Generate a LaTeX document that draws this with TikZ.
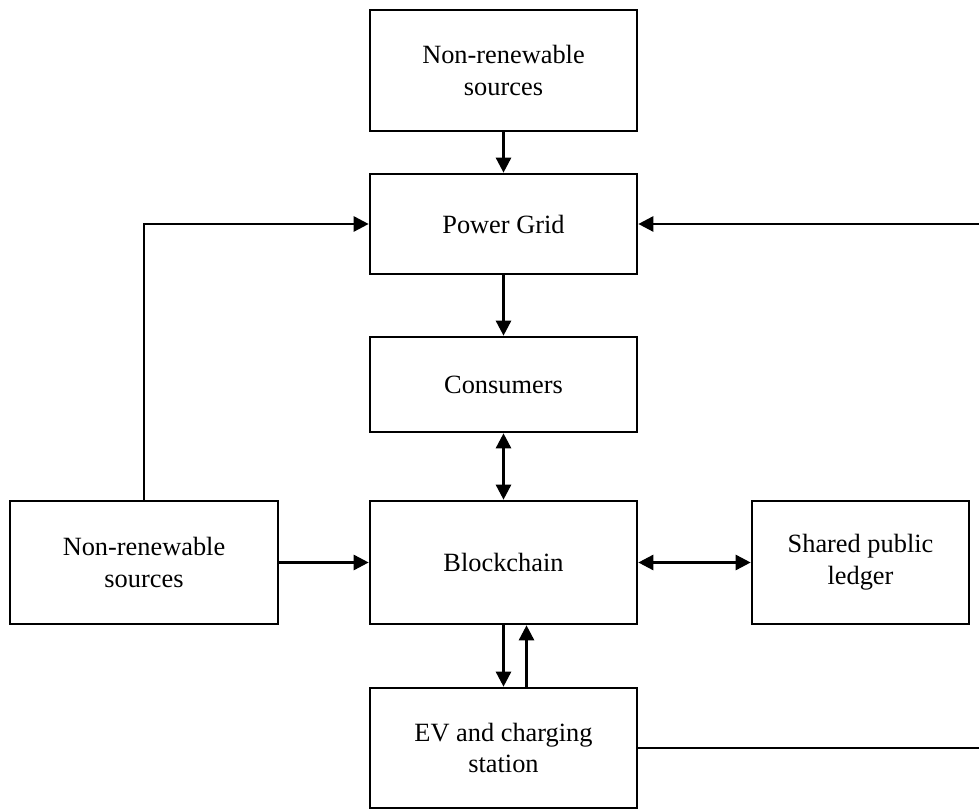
\documentclass[tikz,border=0pt]{standalone}
\usepackage{fontspec}
\setmainfont{Liberation Serif}
\usepackage{xcolor}
\usepackage{tikz}
\usetikzlibrary{arrows.meta}
\definecolor{FlowInk}{HTML}{000000}

\begin{document}
\begin{tikzpicture}[x=1cm,y=1cm,
  flowbox/.style={draw=FlowInk,line width=1.5pt,align=center,inner sep=0pt,
    font=\fontsize{15}{18}\selectfont,minimum width=5.34cm},
  flowarrow/.style={draw=FlowInk,line width=1.5pt,-{Triangle[length=0.3cm,width=0.3cm]}},
  flowboth/.style={draw=FlowInk,line width=1.5pt,{Triangle[length=0.3cm,width=0.3cm]}-{Triangle[length=0.3cm,width=0.3cm]}}]
\path[use as bounding box] (0,0) rectangle (19.58,16.20);
\node[flowbox,minimum height=2.42cm] (topsrc) at (10.07,14.79) {Non-renewable\\sources};
\node[flowbox,minimum height=2.00cm] (grid) at (10.07,11.72) {Power Grid};
\node[flowbox,minimum height=1.90cm] (consumers) at (10.07,8.51) {Consumers};
\node[flowbox,minimum height=2.46cm] (chain) at (10.07,4.95) {Blockchain};
\node[flowbox,minimum height=2.40cm] (ev) at (10.07,1.24) {EV and charging\\station};
\node[flowbox,minimum height=2.46cm,minimum width=5.36cm] (leftsrc) at (2.88,4.95) {Non-renewable\\sources};
\node[flowbox,minimum height=2.46cm,minimum width=4.34cm] (ledger) at (17.21,4.95) {Shared public\\ledger};
\coordinate (edgelow) at (19.58,1.24);
\coordinate (edgehigh) at (19.58,11.72);
\draw[flowarrow] (topsrc) -- (grid);
\draw[flowarrow] (grid) -- (consumers);
\draw[flowboth] (consumers) -- (chain);
\draw[flowarrow] (leftsrc) -- (chain);
\draw[flowarrow] (leftsrc.north) |- (grid.west);
\draw[flowboth] (chain) -- (ledger);
\draw[flowarrow] (chain) -- (ev);
\draw[flowarrow] ([xshift=0.46cm]ev.north) -- ([xshift=0.46cm]chain.south);
\draw[draw=FlowInk,line width=1.5pt] (ev.east) -- (edgelow);
\draw[flowarrow] (edgehigh) -- (grid.east);
\end{tikzpicture}
\end{document}
